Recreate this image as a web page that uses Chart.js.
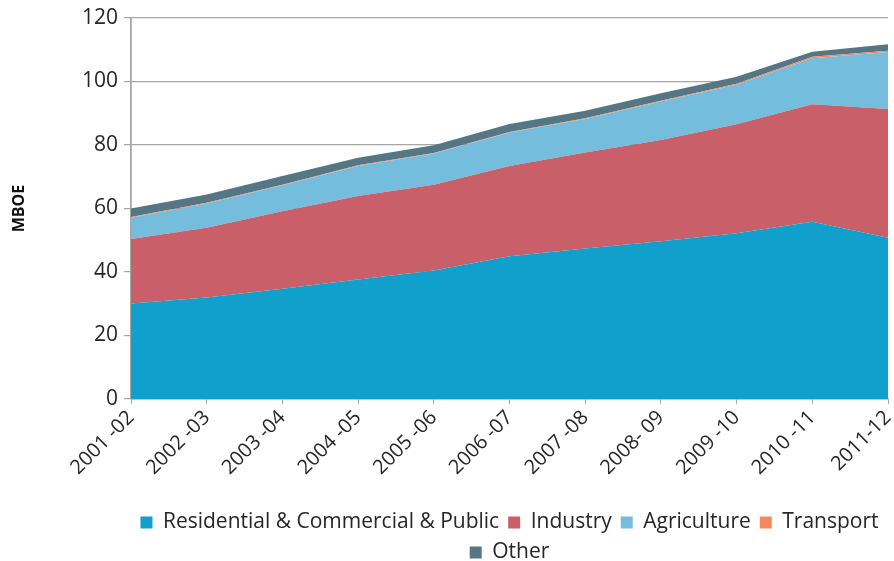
<!DOCTYPE html>
<html>
<head>
<meta charset="utf-8">
<script src="https://cdn.jsdelivr.net/npm/chart.js@4/dist/chart.umd.min.js"></script>
<style>
  html, body { margin: 0; padding: 0; background: #ffffff; }
  canvas { display: block; }
</style>
</head>
<body>
<canvas id="chart" width="894" height="561"></canvas>
<script>
// Fiscal years on the category axis
const years = ["2001 -02", "2002 -03", "2003 -04", "2004 -05", "2005 -06", "2006 -07",
               "2007 -08", "2008- 09", "2009 -10", "2010 -11", "2011-12"];

// Energy consumption by sector (MBOE)
const residential = [30.1, 32.0, 34.7, 37.6, 40.5, 45.0, 47.4, 49.7, 52.2, 55.8, 50.8];
const industry    = [20.3, 21.9, 24.4, 26.3, 27.0, 28.4, 30.2, 31.9, 34.3, 37.0, 40.5];
const agriculture = [6.7, 7.7, 8.2, 9.5, 9.8, 10.5, 10.6, 12.1, 12.5, 14.5, 18.0];
const transport   = [0.2, 0.2, 0.2, 0.2, 0.2, 0.2, 0.2, 0.2, 0.3, 0.5, 0.4];
const other       = [2.7, 2.6, 2.7, 2.4, 2.4, 2.5, 2.4, 2.4, 2.2, 1.6, 2.0];

// Y-axis tick values
const yTicks = [0, 20, 40, 60, 80, 100, 120];

const FONT = "'Open Sans', sans-serif";
const TEXT = "#262626";
const AXIS = "#a6a6a6";

function area(label, data, color, fill) {
  return {
    label, data,
    backgroundColor: color,
    borderColor: color,
    borderWidth: 0,
    pointRadius: 0,
    pointHoverRadius: 0,
    tension: 0,
    fill
  };
}

new Chart(document.getElementById("chart"), {
  type: "line",
  data: {
    labels: years,
    datasets: [
      area("Residential & Commercial & Public", residential, "#11a0cb", "origin"),
      area("Industry", industry, "#c85f69", "-1"),
      area("Agriculture", agriculture, "#75bddc", "-1"),
      area("Transport", transport, "#f4895b", "-1"),
      area("Other", other, "#557685", "-1")
    ]
  },
  options: {
    responsive: false,
    animation: false,
    layout: { padding: { top: 18, right: 6, left: 4, bottom: -12 } },
    plugins: {
      tooltip: { enabled: false },
      legend: {
        position: "bottom",
        fullSize: false,
        labels: {
          font: { family: FONT, size: 21 },
          color: TEXT,
          boxWidth: 12,
          boxHeight: 12,
          padding: 9
        }
      }
    },
    scales: {
      x: {
        offset: false,
        grid: { display: true, drawOnChartArea: false, drawTicks: true, tickLength: 5, tickColor: AXIS },
        border: { color: AXIS, width: 1.5 },
        ticks: {
          font: { family: FONT, size: 20 },
          color: TEXT,
          maxRotation: 45,
          minRotation: 45,
          autoSkip: false,
          padding: 2
        },
        afterFit: (axis) => {
          axis.height = 104;
          axis.paddingLeft = 0;
          axis.paddingRight = 0;
        }
      },
      y: {
        stacked: true,
        min: 0,
        max: 120,
        afterBuildTicks: (axis) => { axis.ticks = yTicks.map(v => ({ value: v })); },
        grid: { color: AXIS, lineWidth: 1.2, tickLength: 7, tickColor: AXIS },
        border: { color: AXIS, width: 1.8 },
        ticks: {
          font: { family: FONT, size: 21 },
          color: TEXT,
          padding: 6
        },
        title: {
          display: true,
          text: "MBOE",
          font: { family: FONT, size: 16, weight: "bold" },
          color: "#111111",
          padding: { top: 6, bottom: 0 }
        },
        afterFit: (axis) => {
          axis.width = 127;
          axis.paddingTop = 0;
          axis.paddingBottom = 0;
        }
      }
    }
  }
});
</script>
</body>
</html>
